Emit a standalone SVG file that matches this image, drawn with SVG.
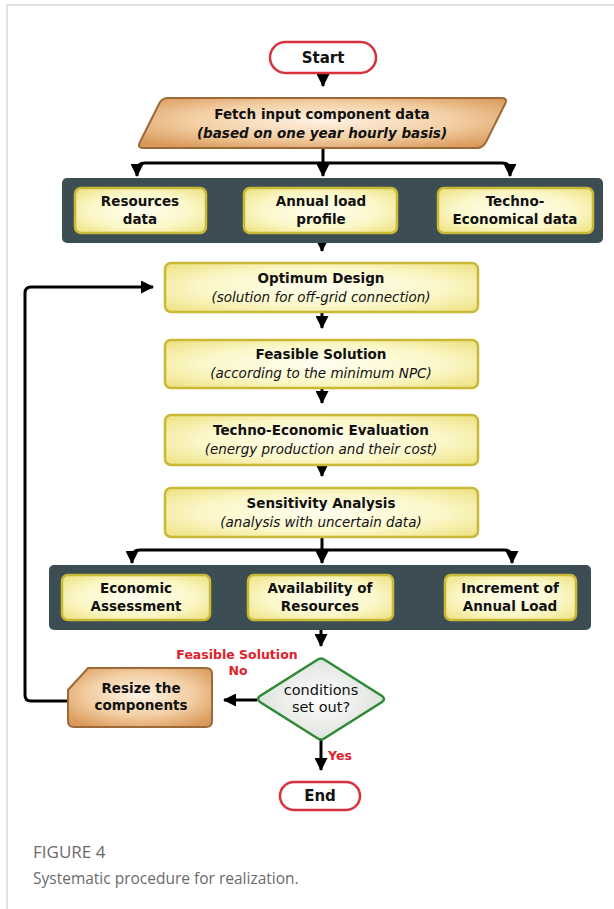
<svg xmlns="http://www.w3.org/2000/svg" width="614" height="909" viewBox="0 0 614 909">
<style>
.t{font-family:"DejaVu Sans","Liberation Sans",sans-serif;fill:#111;text-anchor:middle}
.b{font-weight:bold;font-size:13.5px}
.i{font-style:italic;font-size:13.5px}
.bi{font-style:italic;font-weight:bold;font-size:13.5px}
.yb{fill:url(#yg);stroke:#c8b936;stroke-width:2.5}
.band{fill:#3c4e53}
.c{fill:none;stroke:#000;stroke-width:3}
.red{font-family:"Comic Sans MS","DejaVu Sans",sans-serif;font-weight:bold;font-size:12.5px;fill:#e0202a;text-anchor:middle}
.cap{font-family:"Open Sans","Noto Sans",sans-serif;fill:#6b6b6b}
</style>
<defs>
<radialGradient id="yg" cx="50%" cy="50%" r="65%">
<stop offset="0" stop-color="#fffef0"/>
<stop offset="0.6" stop-color="#fbf7c8"/>
<stop offset="1" stop-color="#efe48a"/>
</radialGradient>
<radialGradient id="og" cx="50%" cy="45%" r="65%">
<stop offset="0" stop-color="#fff2e4"/>
<stop offset="0.55" stop-color="#f3cfa4"/>
<stop offset="1" stop-color="#d9995a"/>
</radialGradient>
<radialGradient id="gg" cx="50%" cy="50%" r="60%">
<stop offset="0" stop-color="#ffffff"/>
<stop offset="1" stop-color="#d8ddd6"/>
</radialGradient>
<marker id="ah" markerWidth="13" markerHeight="13" refX="12" refY="6.5" orient="auto" markerUnits="userSpaceOnUse">
<path d="M0,0 L13,6.5 L0,13 z" fill="#000"/>
</marker>
</defs>
<rect width="614" height="909" fill="#fff"/>
<path d="M7,909 V5 H614" fill="none" stroke="#d9d9d9" stroke-width="1.5"/>

<g id="connectors">
<path class="c" d="M323,73 V86" marker-end="url(#ah)"/>
<path class="c" d="M323,148 V176" marker-end="url(#ah)"/>
<path class="c" d="M323,163 H145 Q137,163 137,171 V176" marker-end="url(#ah)"/>
<path class="c" d="M323,163 H502 Q510,163 510,171 V176" marker-end="url(#ah)"/>
<path class="c" d="M322,233 V251" marker-end="url(#ah)"/>
<path class="c" d="M322,312 V328" marker-end="url(#ah)"/>
<path class="c" d="M322,388 V403" marker-end="url(#ah)"/>
<path class="c" d="M322,465 V476" marker-end="url(#ah)"/>
<path class="c" d="M322,537 V563" marker-end="url(#ah)"/>
<path class="c" d="M322,550 H140 Q132,550 132,558 V563" marker-end="url(#ah)"/>
<path class="c" d="M322,550 H504 Q512,550 512,558 V563" marker-end="url(#ah)"/>
<path class="c" d="M321,620 V646" marker-end="url(#ah)"/>
<path class="c" d="M257,700 H224" marker-end="url(#ah)"/>
<path class="c" d="M68,701 H31 Q25,701 25,695 V293 Q25,287 31,287 H153" marker-end="url(#ah)"/>
<path class="c" d="M321,740 V770" marker-end="url(#ah)"/>
<text class="red" x="237" y="659">Feasible Solution</text>
<text class="red" x="238" y="675">No</text>
<text class="red" x="340" y="760">Yes</text>
</g>

<g id="start">
<rect x="270" y="42" width="106" height="31" rx="15.5" fill="#fff" stroke="#d8323c" stroke-width="2.5"/>
<text class="t b" x="323" y="63" style="font-size:15px">Start</text>
</g>

<g id="fetch">
<path d="M167,98 H502 Q508,98 505,104 L486,142 Q483,148 477,148 H143 Q137,148 140,142 L159,104 Q162,98 167,98 z" fill="url(#og)" stroke="#9c6a38" stroke-width="2"/>
<text class="t b" x="322" y="119">Fetch input component data</text>
<text class="t bi" x="322" y="138">(based on one year hourly basis)</text>
</g>

<g id="band1">
<rect class="band" x="62" y="178" width="541" height="65" rx="5"/>
</g>
<g id="resources">
<rect class="yb" x="75" y="188" width="131" height="45" rx="6"/>
<text class="t b" x="140" y="206">Resources</text>
<text class="t b" x="140" y="224">data</text>
</g>
<g id="annual">
<rect class="yb" x="244" y="188" width="153" height="45" rx="6"/>
<text class="t b" x="321" y="206">Annual load</text>
<text class="t b" x="321" y="224">profile</text>
</g>
<g id="techno">
<rect class="yb" x="438" y="188" width="155" height="45" rx="6"/>
<text class="t b" x="515" y="206">Techno-</text>
<text class="t b" x="515" y="224">Economical data</text>
</g>

<g id="optimum">
<rect class="yb" x="165" y="263" width="313" height="49" rx="6"/>
<text class="t b" x="321" y="283">Optimum Design</text>
<text class="t i" x="321" y="302">(solution for off-grid connection)</text>
</g>
<g id="feasible">
<rect class="yb" x="165" y="340" width="313" height="48" rx="6"/>
<text class="t b" x="321" y="359">Feasible Solution</text>
<text class="t i" x="321" y="378">(according to the minimum NPC)</text>
</g>
<g id="evaluation">
<rect class="yb" x="165" y="415" width="313" height="50" rx="6"/>
<text class="t b" x="321" y="435">Techno-Economic Evaluation</text>
<text class="t i" x="321" y="454">(energy production and their cost)</text>
</g>
<g id="sensitivity">
<rect class="yb" x="165" y="488" width="313" height="49" rx="6"/>
<text class="t b" x="321" y="508">Sensitivity Analysis</text>
<text class="t i" x="321" y="527">(analysis with uncertain data)</text>
</g>

<g id="band2">
<rect class="band" x="49" y="565" width="542" height="65" rx="5"/>
</g>
<g id="economic">
<rect class="yb" x="62" y="575" width="148" height="45" rx="6"/>
<text class="t b" x="136" y="593">Economic</text>
<text class="t b" x="136" y="611">Assessment</text>
</g>
<g id="availability">
<rect class="yb" x="248" y="575" width="145" height="45" rx="6"/>
<text class="t b" x="320" y="593">Availability of</text>
<text class="t b" x="320" y="611">Resources</text>
</g>
<g id="increment">
<rect class="yb" x="445" y="575" width="131" height="45" rx="6"/>
<text class="t b" x="510" y="593">Increment of</text>
<text class="t b" x="510" y="611">Annual Load</text>
</g>

<g id="decision">
<path d="M317,660 Q321,657 325,660 L382,696 Q386,699 382,702 L325,738 Q321,741 317,738 L260,702 Q256,699 260,696 z" fill="url(#gg)" stroke="#2f8a35" stroke-width="2.5"/>
<text class="t" x="321" y="695" style="font-size:14.5px">conditions</text>
<text class="t" x="321" y="712" style="font-size:14.5px">set out?</text>
</g>

<g id="resize">
<path d="M88,668 H206 Q212,668 212,674 V721 Q212,727 206,727 H74 Q68,727 68,721 V690 z" fill="url(#og)" stroke="#9c6a38" stroke-width="2"/>
<text class="t b" x="141" y="693">Resize the</text>
<text class="t b" x="141" y="710">components</text>
</g>

<g id="end">
<rect x="280" y="782" width="80" height="28" rx="14" fill="#fff" stroke="#d8323c" stroke-width="2.5"/>
<text class="t" x="320" y="801" style="font-size:15px;font-weight:bold">End</text>
</g>

<g id="caption">
<text class="cap" x="33" y="858" style="font-size:17px">FIGURE 4</text>
<text class="cap" x="33" y="884" style="font-size:15.5px">Systematic procedure for realization.</text>
</g>
</svg>
